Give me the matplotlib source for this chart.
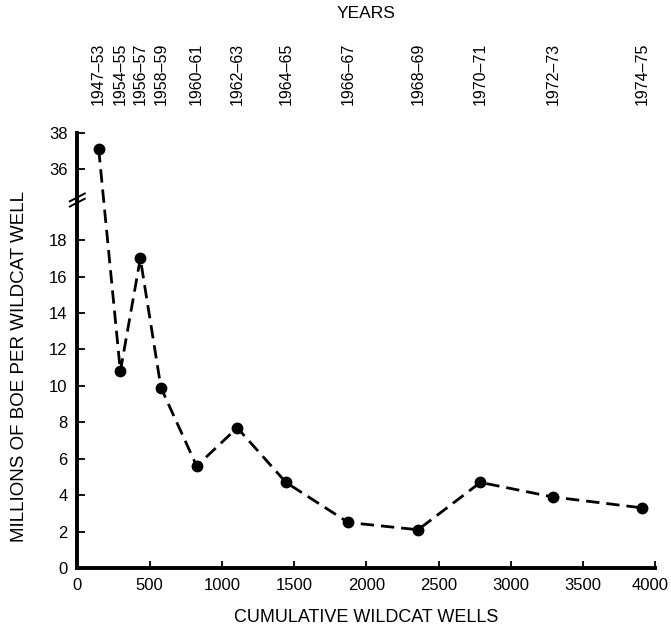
import numpy as np
import matplotlib
matplotlib.use("Agg")
import matplotlib.pyplot as plt
import matplotlib.transforms as mtransforms

plt.rcParams['font.family'] = ['Liberation Sans', 'DejaVu Sans']

# cumulative wildcat wells and discovery per well (millions BOE)
wells = [148, 298, 436, 579, 826, 1107, 1444, 1875, 2358, 2790, 3292, 3910]
boe = [37.1, 10.8, 17.0, 9.9, 5.6, 7.7, 4.7, 2.5, 2.1, 4.7, 3.9, 3.3]
years = ['1947–53', '1954–55', '1956–57', '1958–59', '1960–61', '1962–63',
         '1964–65', '1966–67', '1968–69', '1970–71', '1972–73', '1974–75']

y_ticks = [0, 2, 4, 6, 8, 10, 12, 14, 16, 18, 36, 38]
x_ticks = [0, 500, 1000, 1500, 2000, 2500, 3000, 3500, 4000]


# broken y axis: squeeze 20..34.2 into almost nothing
def fwd(y):
    y = np.asarray(y, dtype=float)
    return np.where(y < 20, y,
                    np.where(y < 34.2, 20 + (y - 20) * 0.1 / 14.2, y - 14.1))


def inv(v):
    v = np.asarray(v, dtype=float)
    return np.where(v < 20, v,
                    np.where(v < 20.1, 20 + (v - 20) * 142.0, v + 14.1))


fig = plt.figure(figsize=(6.71, 6.35), dpi=100)
ax = fig.add_axes([0.1152, 0.1055, 0.8614, 0.6855])

ax.plot(wells, boe, color='black', lw=2.0, dashes=(4.8, 2.5),
        marker='o', ms=7.5, mfc='black', mec='black')

ax.set_yscale('function', functions=(fwd, inv))
ax.set_ylim(0, 38)
ax.set_xlim(0, 4000)
ax.set_yticks(y_ticks)
ax.set_yticklabels([str(t) for t in y_ticks])
ax.set_xticks(x_ticks)
ax.set_xticklabels([str(t) for t in x_ticks])
ax.minorticks_off()

for s in ['top', 'right']:
    ax.spines[s].set_visible(False)
ax.spines['left'].set_linewidth(2.8)
ax.spines['bottom'].set_linewidth(2.8)
ax.tick_params(axis='y', direction='in', length=6, width=1.3, pad=7, labelsize=12)
ax.tick_params(axis='x', direction='in', length=5, width=1.3, pad=7, labelsize=12)

# keep the last x label inside the figure
last = ax.get_xticklabels()[-1]
last.set_transform(last.get_transform() +
                   mtransforms.ScaledTranslation(-5 / 100, 0, fig.dpi_scale_trans))

# break marks on the y axis
yb = 0.8454
for dy in (-0.006, 0.006):
    ax.plot([-0.013, 0.013], [yb + dy - 0.009, yb + dy + 0.009],
            transform=ax.transAxes, color='black', lw=1.4, clip_on=False)

ax.set_xlabel('CUMULATIVE WILDCAT WELLS', fontsize=13, labelpad=12)
ax.set_ylabel('MILLIONS OF BOE PER WILDCAT WELL', fontsize=13.5)
ax.yaxis.set_label_coords(-0.085, 0.462)

top = ax.twiny()
top.set_xlim(ax.get_xlim())
top.set_xticks(wells)
top.set_xticklabels(years, rotation=90, fontsize=11.5)
top.tick_params(axis='x', length=0, pad=20)
for s in top.spines.values():
    s.set_visible(False)
top.set_xlabel('YEARS', fontsize=12.5, labelpad=18)

fig.savefig('out.png', dpi=100)
